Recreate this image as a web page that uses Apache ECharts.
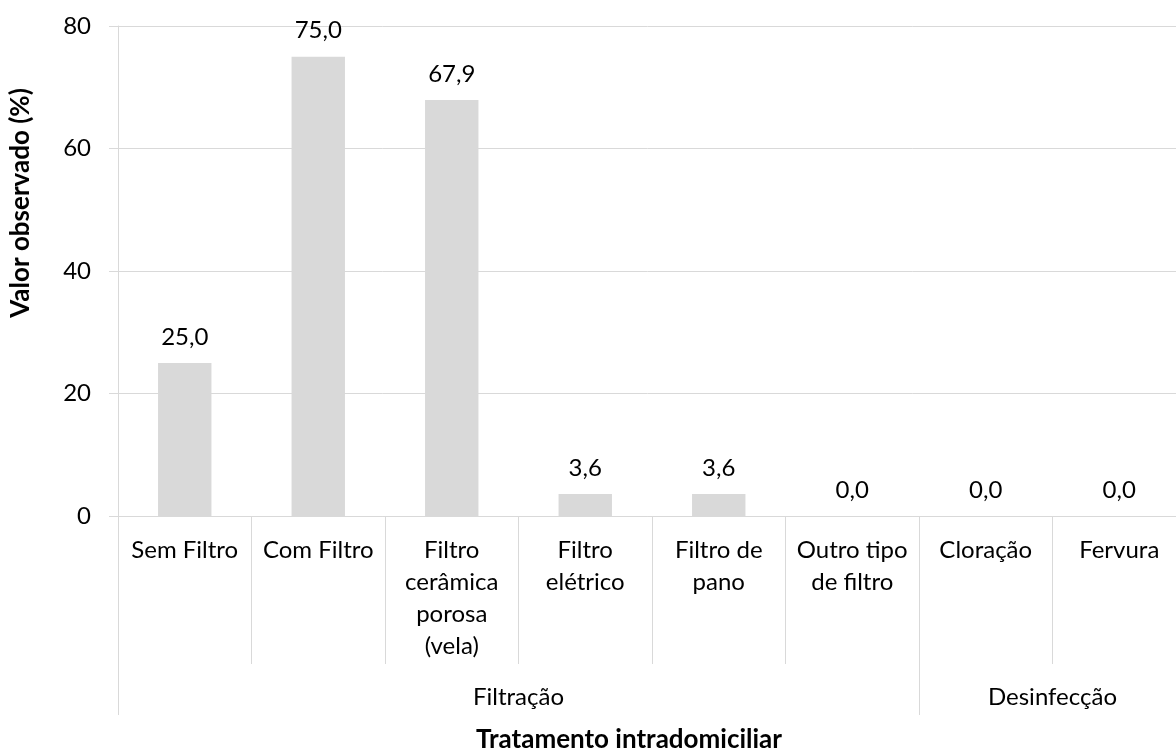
<!DOCTYPE html>
<html>
<head>
<meta charset="utf-8">
<script src="https://cdn.jsdelivr.net/npm/echarts@6/dist/echarts.min.js"></script>
<style>
html,body{margin:0;padding:0;background:#fff;}
#c{width:1176px;height:749px;}
</style>
</head>
<body>
<div id="c"></div>
<script>
const categories = ['Sem Filtro', 'Com Filtro', 'Filtro\ncerâmica\nporosa\n(vela)', 'Filtro\nelétrico', 'Filtro de\npano', 'Outro tipo\nde filtro', 'Cloração', 'Fervura'];
const values = [25.0, 75.0, 67.9, 3.6, 3.6, 0.0, 0.0, 0.0];
const groupAxis = ['', '', '', 'Filtração', '', '', '', 'Desinfecção', ''];
const groupBoundaries = [0, 6, 8];
const yTicks = { min: 0, max: 80, interval: 20 };

const FONT = 'Lato';
const FS = 24;
const FSB = 26;
const LINE = '#d9d9d9';

const chart = echarts.init(document.getElementById('c'), null, { renderer: 'canvas' });
chart.setOption({
  animation: false,
  backgroundColor: '#fff',
  textStyle: { fontFamily: FONT },
  title: {
    text: 'Tratamento intradomiciliar',
    left: 476,
    top: 727,
    padding: 0,
    textStyle: { fontFamily: FONT, fontSize: FSB, fontWeight: 'bold', color: '#000' }
  },
  grid: { left: 118, width: 1068, top: 26, bottom: 233, containLabel: false, outerBoundsMode: 'none' },
  xAxis: [
    {
      type: 'category',
      data: categories,
      position: 'bottom',
      axisLine: { show: true, lineStyle: { color: LINE, width: 1 } },
      axisTick: { show: true, interval: 0, length: 148, lineStyle: { color: LINE, width: 1 } },
      axisLabel: { interval: 0, margin: 18, color: '#000', fontFamily: FONT, fontSize: FS, lineHeight: 32 }
    },
    {
      type: 'category',
      data: groupAxis,
      position: 'bottom',
      offset: 148,
      boundaryGap: false,
      axisLine: { show: false },
      axisTick: {
        show: true,
        interval: function (idx) { return groupBoundaries.indexOf(idx) >= 0; },
        length: 51,
        lineStyle: { color: LINE, width: 1 }
      },
      axisLabel: { interval: 0, margin: 17, color: '#000', fontFamily: FONT, fontSize: FS, lineHeight: 32 }
    }
  ],
  yAxis: {
    type: 'value',
    min: yTicks.min,
    max: yTicks.max,
    interval: yTicks.interval,
    name: 'Valor observado (%)',
    nameLocation: 'middle',
    nameGap: 84,
    nameTextStyle: { fontFamily: FONT, fontSize: FSB, fontWeight: 'bold', color: '#000', padding: [0, 0, 0, 136] },
    axisLine: { show: true, lineStyle: { color: LINE, width: 1 } },
    axisTick: { show: true, length: 9, lineStyle: { color: LINE, width: 1 } },
    axisLabel: { margin: 27, color: '#000', fontFamily: FONT, fontSize: FS },
    splitLine: { show: true, lineStyle: { color: LINE, width: 1 } }
  },
  series: [{
    type: 'bar',
    data: values,
    barWidth: '40%',
    itemStyle: { color: '#d9d9d9' },
    label: {
      show: true,
      position: 'top',
      distance: 14,
      color: '#000',
      fontFamily: FONT,
      fontSize: FS,
      formatter: function (p) { return p.value.toFixed(1).replace('.', ','); }
    }
  }]
});
</script>
</body>
</html>
